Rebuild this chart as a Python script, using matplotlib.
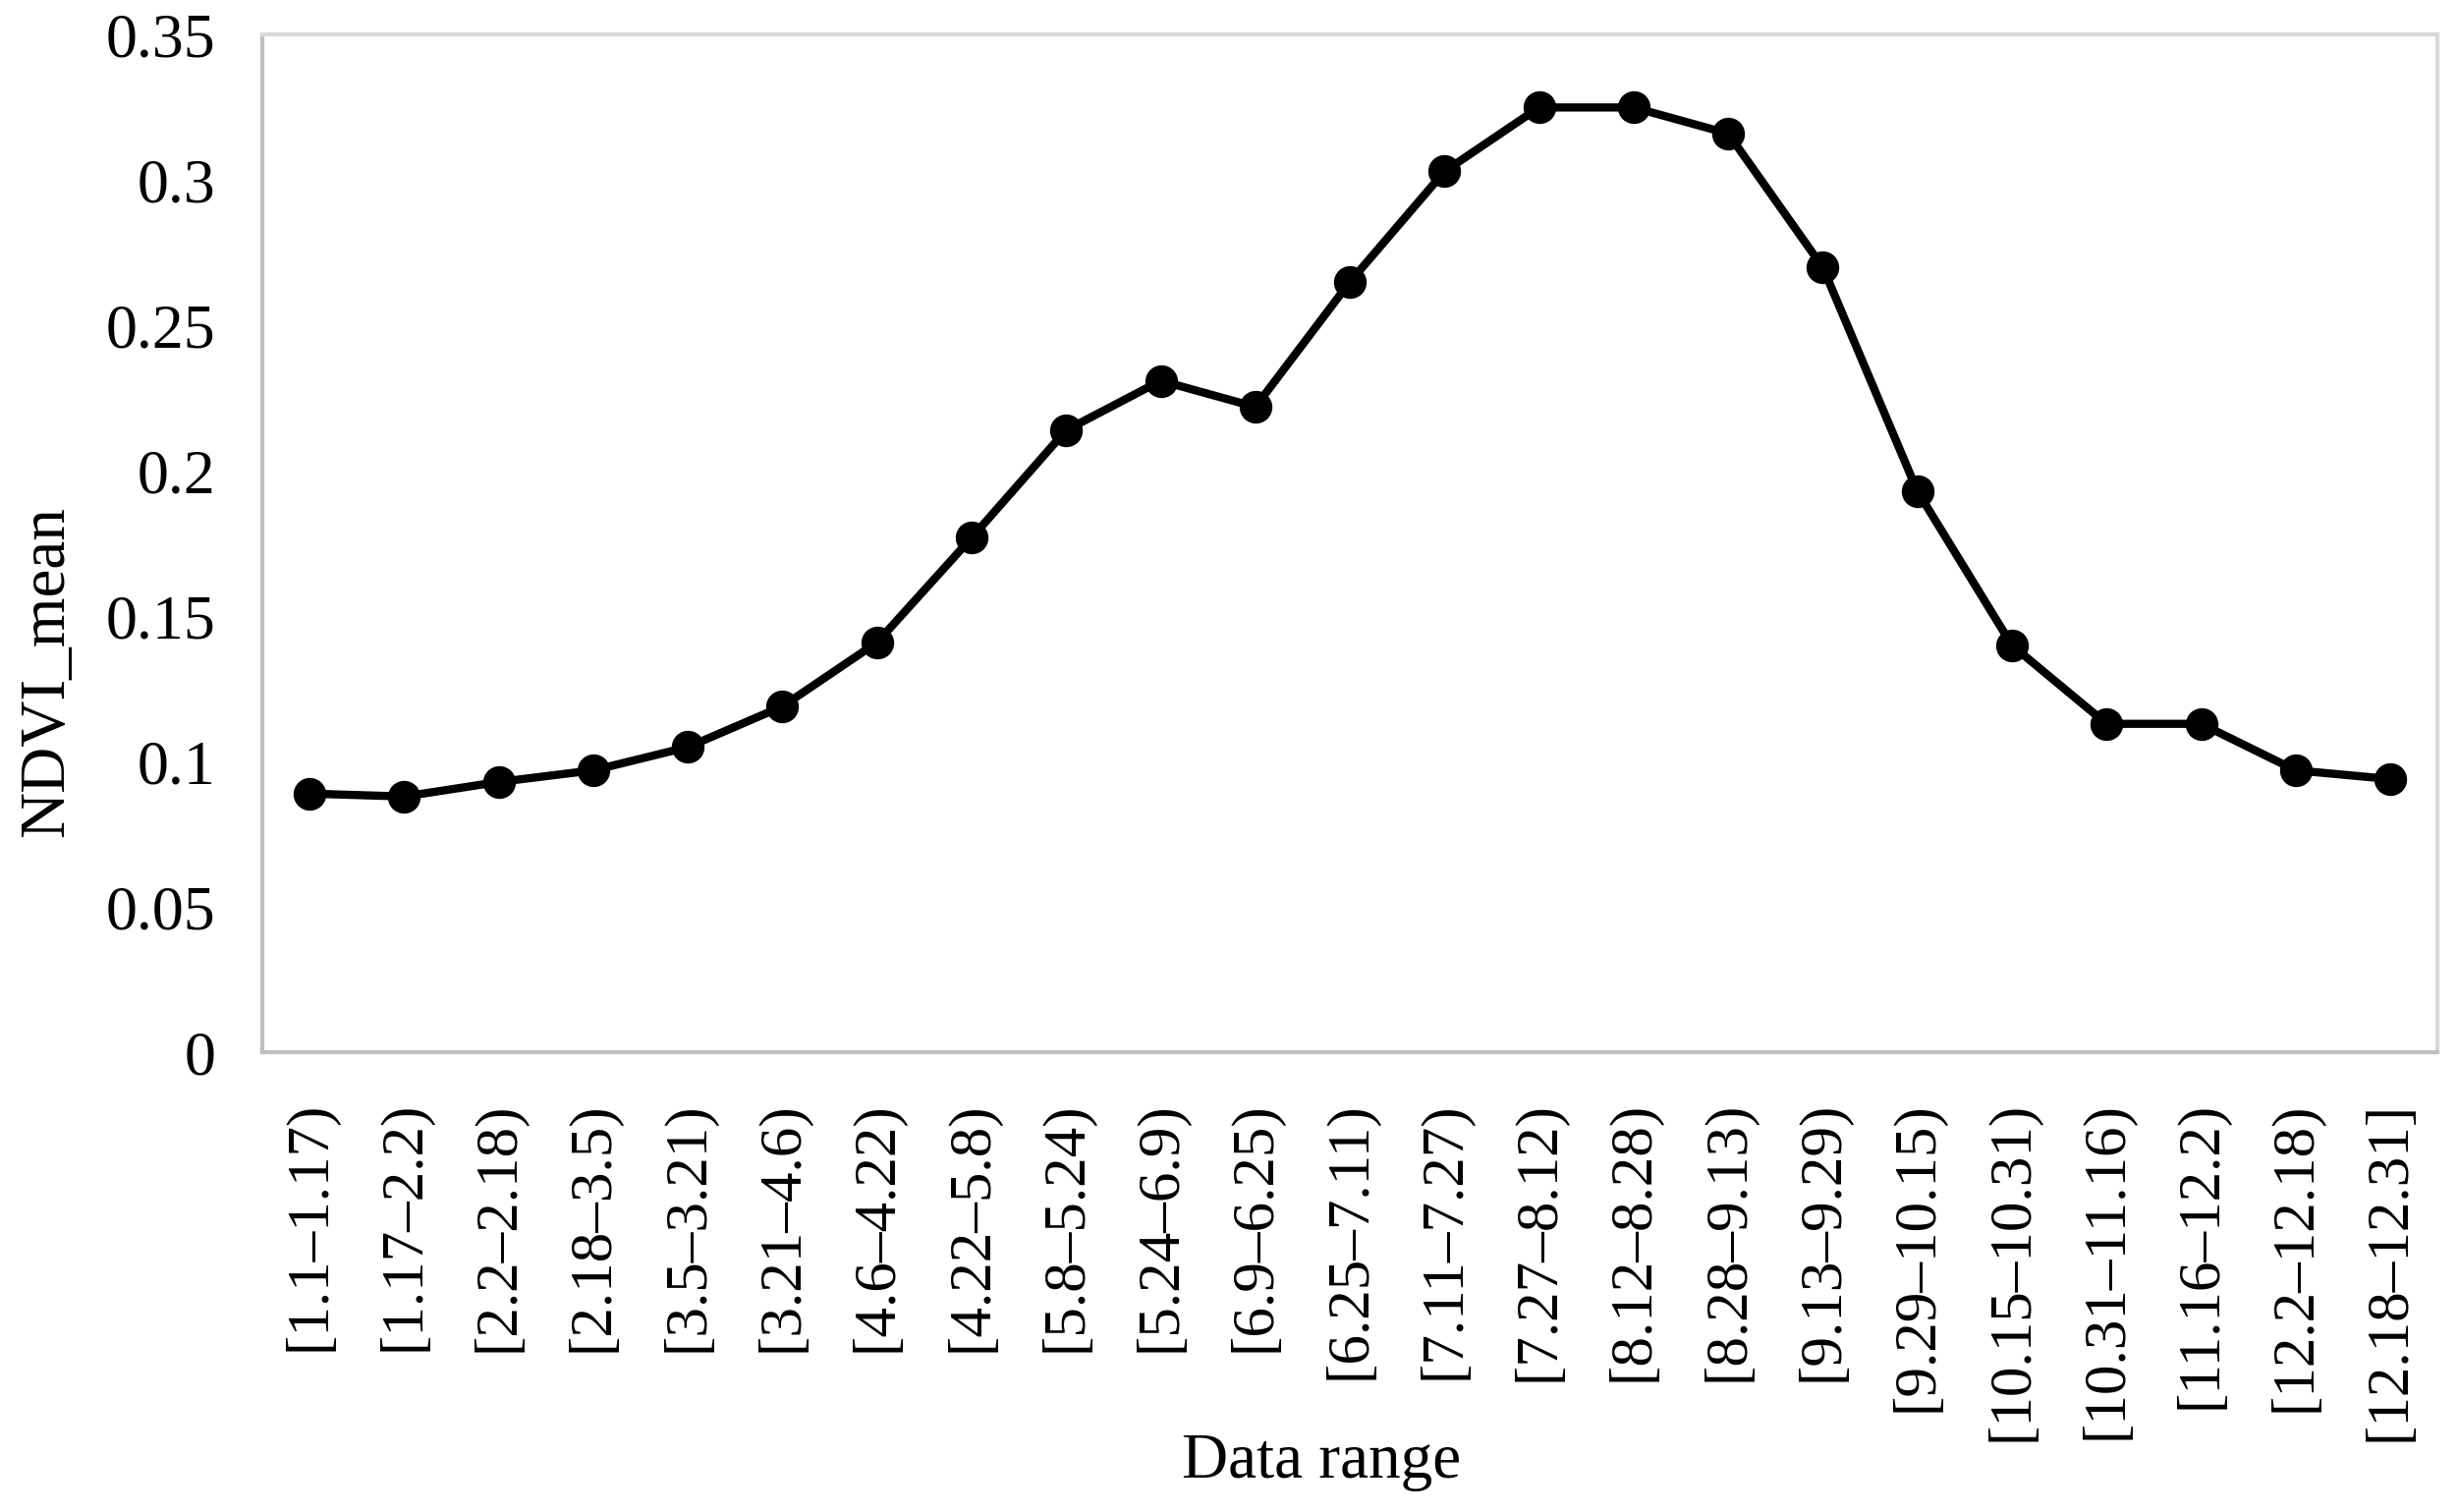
import matplotlib
matplotlib.use("Agg")
import matplotlib.pyplot as plt

categories = ["[1.1–1.17)", "[1.17–2.2)", "[2.2–2.18)", "[2.18–3.5)", "[3.5–3.21)",
              "[3.21–4.6)", "[4.6–4.22)", "[4.22–5.8)", "[5.8–5.24)", "[5.24–6.9)",
              "[6.9–6.25)", "[6.25–7.11)", "[7.11–7.27)", "[7.27–8.12)", "[8.12–8.28)",
              "[8.28–9.13)", "[9.13–9.29)", "[9.29–10.15)", "[10.15–10.31)", "[10.31–11.16)",
              "[11.16–12.2)", "[12.2–12.18)", "[12.18–12.31]"]
ndvi_mean = [0.089, 0.088, 0.093, 0.097, 0.105, 0.119, 0.141, 0.177, 0.214, 0.231,
             0.222, 0.265, 0.303, 0.325, 0.325, 0.316, 0.270, 0.193, 0.140, 0.113,
             0.113, 0.097, 0.094]
yticks = [0, 0.05, 0.1, 0.15, 0.2, 0.25, 0.3, 0.35]
ytick_labels = ["0", "0.05", "0.1", "0.15", "0.2", "0.25", "0.3", "0.35"]

plt.rcParams['font.family'] = ['Liberation Serif', 'DejaVu Serif']

fig = plt.figure(figsize=(25.02, 15.39), dpi=100)
ax = fig.add_axes([0.1067, 0.304, 0.885, 0.673])

x = list(range(len(categories)))
ax.plot(x, ndvi_mean, color='black', linewidth=6, marker='o', markersize=23,
        markerfacecolor='black', markeredgecolor='black', solid_joinstyle='round')

ax.set_xlim(-0.5, len(categories) - 0.5)
ax.set_ylim(0, 0.35)
ax.set_yticks(yticks)
ax.set_yticklabels(ytick_labels)
ax.set_xticks(x)
ax.set_xticklabels(categories, rotation=90, va='top', ha='center')

ax.tick_params(axis='y', length=0, pad=34, labelsize=46)
ax.tick_params(axis='x', length=0, pad=36, labelsize=44)

for side in ['left', 'bottom']:
    ax.spines[side].set_color('#BFBFBF')
    ax.spines[side].set_linewidth(3)
for side in ['top', 'right']:
    ax.spines[side].set_color('#D9D9D9')
    ax.spines[side].set_linewidth(3)

ax.set_ylabel("NDVI_mean", fontsize=47)
ax.yaxis.set_label_coords(-0.0855, 0.374)
fig.text(0.5375, 1 - 1488 / 1539, "Data range", fontsize=47, ha='center', va='center')

fig.savefig("out.png", dpi=100, facecolor='white')
